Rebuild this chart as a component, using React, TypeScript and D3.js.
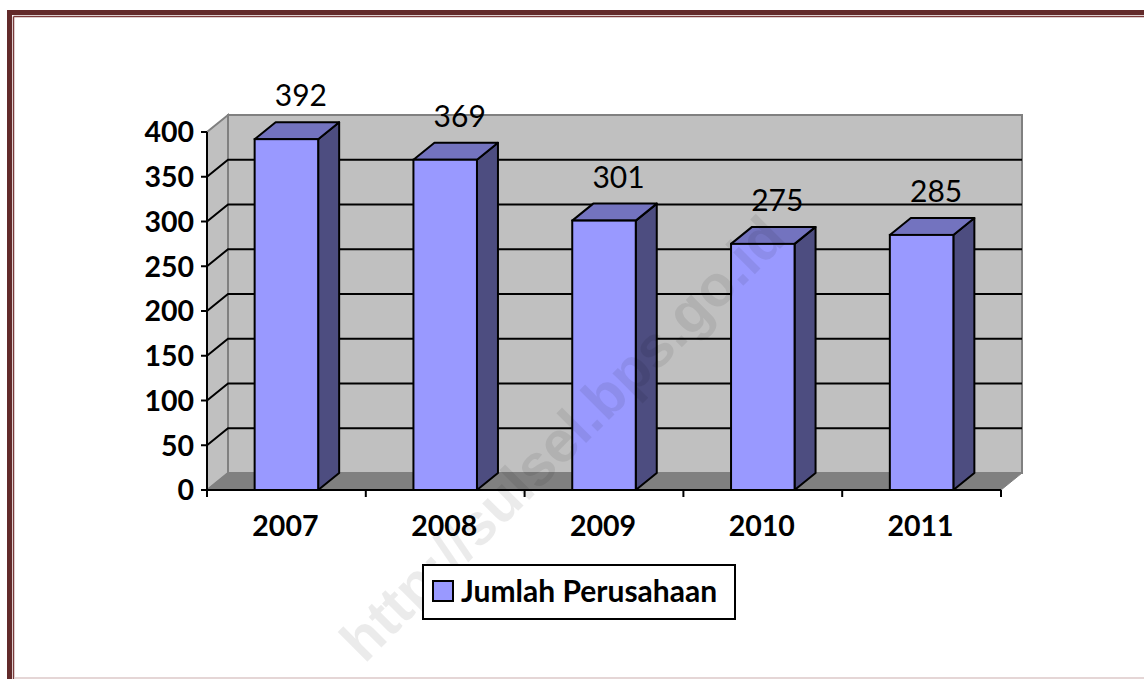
import * as d3 from 'd3';
import { useEffect, useRef } from 'react';

const years = ['2007', '2008', '2009', '2010', '2011'];
const perusahaan = [392, 369, 301, 275, 285];
const yTicks = [0, 50, 100, 150, 200, 250, 300, 350, 400];
const seriesName = 'Jumlah Perusahaan';
const watermark = 'http://sulsel.bps.go.id';

const App = () => {
  const svgRef = useRef<SVGSVGElement>(null);

  useEffect(() => {
    const W = 1144,
      H = 679;
    const left = 207,
      right = 1001,
      bottom = 490,
      top = 132;
    const dx = 21,
      dy = -17;
    const wall = '#c0c0c0',
      floor = '#808080',
      edge = '#808080';
    const font = 'Lato, "Liberation Sans", Arial, sans-serif';

    const svg = d3.select(svgRef.current).attr('width', W).attr('height', H);
    svg.selectAll('*').remove();

    // page border
    svg.append('rect').attr('width', W).attr('height', H).attr('fill', '#fff');
    svg.append('rect').attr('x', 7).attr('y', 10).attr('width', W).attr('height', 5).attr('fill', '#622a2a');
    svg.append('rect').attr('x', 7).attr('y', 10).attr('width', 5).attr('height', H).attr('fill', '#622a2a');
    svg.append('line').attr('x1', 13.5).attr('x2', W).attr('y1', 16.5).attr('y2', 16.5).attr('stroke', '#7a3a3a').attr('stroke-width', 1.5);
    svg.append('line').attr('x1', 13.5).attr('x2', 13.5).attr('y1', 16.5).attr('y2', H).attr('stroke', '#7a3a3a').attr('stroke-width', 1.5);
    svg.append('line').attr('x1', 15).attr('x2', W).attr('y1', 678).attr('y2', 678).attr('stroke', '#dcc8c8').attr('stroke-width', 1.5);

    const x = d3.scaleBand<string>().domain(years).range([left, right]).padding(0);
    const y = d3.scaleLinear().domain([0, 400]).range([bottom, top]);
    const g = svg.append('g');

    // back wall
    g.append('rect')
      .attr('x', left + dx)
      .attr('y', y(400) + dy)
      .attr('width', right - left)
      .attr('height', y(0) - y(400))
      .attr('fill', wall)
      .attr('stroke', edge)
      .attr('stroke-width', 2);
    // side wall
    g.append('path')
      .attr('d', `M${left},${y(0)}L${left},${y(400)}L${left + dx},${y(400) + dy}L${left + dx},${y(0) + dy}Z`)
      .attr('fill', wall)
      .attr('stroke', edge)
      .attr('stroke-width', 2);
    // floor
    g.append('path')
      .attr('d', `M${left},${y(0)}L${right},${y(0)}L${right + dx},${y(0) + dy}L${left + dx},${y(0) + dy}Z`)
      .attr('fill', floor)
      .attr('stroke', edge)
      .attr('stroke-width', 1);

    // gridlines
    const inner = yTicks.filter((t) => t > 0 && t < 400);
    g.selectAll('.grid')
      .data(inner)
      .join('path')
      .attr('d', (t) => `M${left},${y(t)}L${left + dx},${y(t) + dy}L${right + dx},${y(t) + dy}`)
      .attr('fill', 'none')
      .attr('stroke', '#000')
      .attr('stroke-width', 2);

    // bars
    const bw = x.bandwidth() * 0.4;
    const bars = g.selectAll('.bar').data(perusahaan).join('g');
    bars.each(function (d, i) {
      const b = d3.select(this);
      const x0 = x(years[i])! + (x.bandwidth() - bw) / 2;
      const x1 = x0 + bw;
      const yt = y(d),
        yb = y(0);
      b.append('path')
        .attr('d', `M${x1},${yb}L${x1 + dx},${yb + dy}L${x1 + dx},${yt + dy}L${x1},${yt}Z`)
        .attr('fill', '#4d4d80')
        .attr('stroke', '#000')
        .attr('stroke-width', 2)
        .attr('stroke-linejoin', 'round');
      b.append('path')
        .attr('d', `M${x0},${yt}L${x0 + dx},${yt + dy}L${x1 + dx},${yt + dy}L${x1},${yt}Z`)
        .attr('fill', '#7373bf')
        .attr('stroke', '#000')
        .attr('stroke-width', 2)
        .attr('stroke-linejoin', 'round');
      b.append('rect')
        .attr('x', x0)
        .attr('y', yt)
        .attr('width', bw)
        .attr('height', yb - yt)
        .attr('fill', '#9999ff')
        .attr('stroke', '#000')
        .attr('stroke-width', 2);
    });

    // watermark
    svg
      .append('text')
      .attr('transform', 'translate(562,438) rotate(-45)')
      .attr('text-anchor', 'middle')
      .attr('dominant-baseline', 'central')
      .style('font-family', '"Liberation Sans", Arial, sans-serif')
      .style('font-weight', 'bold')
      .style('font-size', '58px')
      .attr('fill', '#000')
      .attr('fill-opacity', 0.08)
      .text(watermark);

    // axes
    g.append('line').attr('x1', left).attr('x2', left).attr('y1', y(400)).attr('y2', y(0)).attr('stroke', '#000').attr('stroke-width', 2);
    g.append('line').attr('x1', left - 1).attr('x2', right).attr('y1', y(0)).attr('y2', y(0)).attr('stroke', '#000').attr('stroke-width', 2);
    g.selectAll('.ytick')
      .data(yTicks)
      .join('line')
      .attr('x1', left - 6)
      .attr('x2', left)
      .attr('y1', (t) => y(t))
      .attr('y2', (t) => y(t))
      .attr('stroke', '#000')
      .attr('stroke-width', 2);
    g.selectAll('.ylab')
      .data(yTicks)
      .join('text')
      .attr('x', left - 13)
      .attr('y', (t) => y(t))
      .attr('dy', '0.36em')
      .attr('text-anchor', 'end')
      .style('font-family', font)
      .style('font-weight', 'bold')
      .style('font-size', '28.5px')
      .text((t) => t);
    const bounds = years.map((c) => x(c)!).concat([right]);
    g.selectAll('.xtick')
      .data(bounds)
      .join('line')
      .attr('x1', (v) => v)
      .attr('x2', (v) => v)
      .attr('y1', y(0))
      .attr('y2', y(0) + 7)
      .attr('stroke', '#000')
      .attr('stroke-width', 2);
    g.selectAll('.xlab')
      .data(years)
      .join('text')
      .attr('x', (c) => x(c)! + x.bandwidth() / 2 - 1)
      .attr('y', 536)
      .attr('text-anchor', 'middle')
      .style('font-family', font)
      .style('font-weight', 'bold')
      .style('font-size', '28.5px')
      .text((c) => c);

    // data labels
    g.selectAll('.vlab')
      .data(perusahaan)
      .join('text')
      .attr('x', (d, i) => x(years[i])! + x.bandwidth() / 2 + dx / 2 + 4)
      .attr('y', (d) => y(d) + dy - 16)
      .attr('text-anchor', 'middle')
      .style('font-family', font)
      .style('font-size', '30px')
      .text((d) => d);

    // legend
    const lg = svg.append('g');
    lg.append('rect').attr('x', 423).attr('y', 565).attr('width', 312).attr('height', 54).attr('fill', '#fff').attr('stroke', '#000').attr('stroke-width', 2);
    lg.append('rect').attr('x', 433).attr('y', 581).attr('width', 20).attr('height', 20).attr('fill', '#9999ff').attr('stroke', '#000').attr('stroke-width', 2);
    lg.append('text')
      .attr('x', 461)
      .attr('y', 602)
      .style('font-family', font)
      .style('font-weight', 'bold')
      .style('font-size', '30px')
      .text(seriesName);
  }, []);

  return <svg ref={svgRef} style={{ position: 'absolute', left: 0, top: 0 }}></svg>;
};

export default App;
